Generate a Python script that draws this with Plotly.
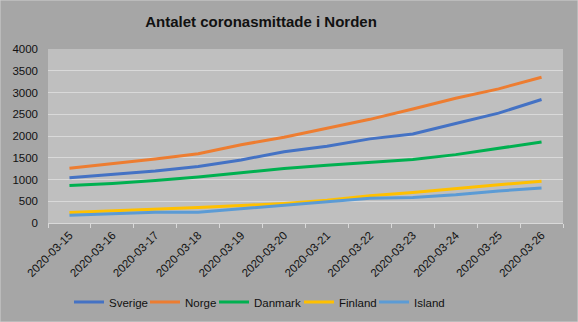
import plotly.graph_objects as go

dates = ["2020-03-15", "2020-03-16", "2020-03-17", "2020-03-18", "2020-03-19", "2020-03-20",
         "2020-03-21", "2020-03-22", "2020-03-23", "2020-03-24", "2020-03-25", "2020-03-26"]
sverige = [1040, 1121, 1196, 1301, 1450, 1639, 1763, 1934, 2046, 2286, 2526, 2840]
norge = [1256, 1359, 1471, 1593, 1800, 1970, 2169, 2383, 2621, 2866, 3084, 3350]
danmark = [864, 910, 977, 1057, 1155, 1255, 1326, 1395, 1460, 1572, 1718, 1862]
finland = [244, 277, 321, 359, 400, 450, 521, 626, 700, 792, 880, 958]
island = [180, 220, 250, 250, 330, 409, 473, 568, 588, 648, 737, 802]

series = [("Sverige", sverige, "#4472c4"),
          ("Norge", norge, "#ed7d31"),
          ("Danmark", danmark, "#00b050"),
          ("Finland", finland, "#ffc000"),
          ("Island", island, "#5b9bd5")]

# legend text start positions (px) in the reference
legend_text_x = [109, 185, 254, 339, 414]

font = "Liberation Sans"
fig = go.Figure()
legend_layout = {}
for i, (name, vals, col) in enumerate(series):
    key = "legend" if i == 0 else f"legend{i+1}"
    fig.add_trace(go.Scatter(x=dates, y=vals, name=name, mode="lines",
                             line=dict(color=col, width=3), legend=key))
    legend_layout[key] = dict(
        orientation="h", xref="container", yref="container",
        x=(legend_text_x[i] - 40) / 578, xanchor="left",
        y=1 - 302 / 322, yanchor="middle",
        bgcolor="rgba(0,0,0,0)", font=dict(size=11.5), itemwidth=30)

fig.update_layout(
    width=578, height=322,
    paper_bgcolor="#a6a6a6", plot_bgcolor="#bfbfbf",
    margin=dict(l=48, r=15, t=49, b=99, autoexpand=False),
    title=dict(text="<b>Antalet coronasmittade i Norden</b>", xref="container",
               x=261 / 578, xanchor="center",
               y=0.932, yanchor="middle", font=dict(family=font, size=15, color="#111111")),
    font=dict(family=font, size=11, color="#111111"),
    showlegend=True,
    **legend_layout,
)
fig.update_xaxes(type="category", tickangle=-45, tickson="boundaries", ticks="outside",
                 ticklen=4, tickcolor="#d9d9d9", showline=True, linecolor="#d9d9d9",
                 linewidth=1, showgrid=False, range=[-0.5, 11.5], tickfont=dict(size=11.5),
                 automargin=False)
fig.update_yaxes(range=[0, 4000], dtick=500, showgrid=True, gridcolor="#d9d9d9",
                 gridwidth=1, zeroline=False, showline=False, ticks="", tickfont=dict(size=11.5),
                 automargin=False, ticklabelstandoff=9)
fig.add_shape(type="rect", xref="paper", yref="paper", x0=-48/515, x1=1+15/515,
              y0=-99/174, y1=1+49/174, line=dict(color="#d0d0d0", width=1))
fig.write_html("out.html")
